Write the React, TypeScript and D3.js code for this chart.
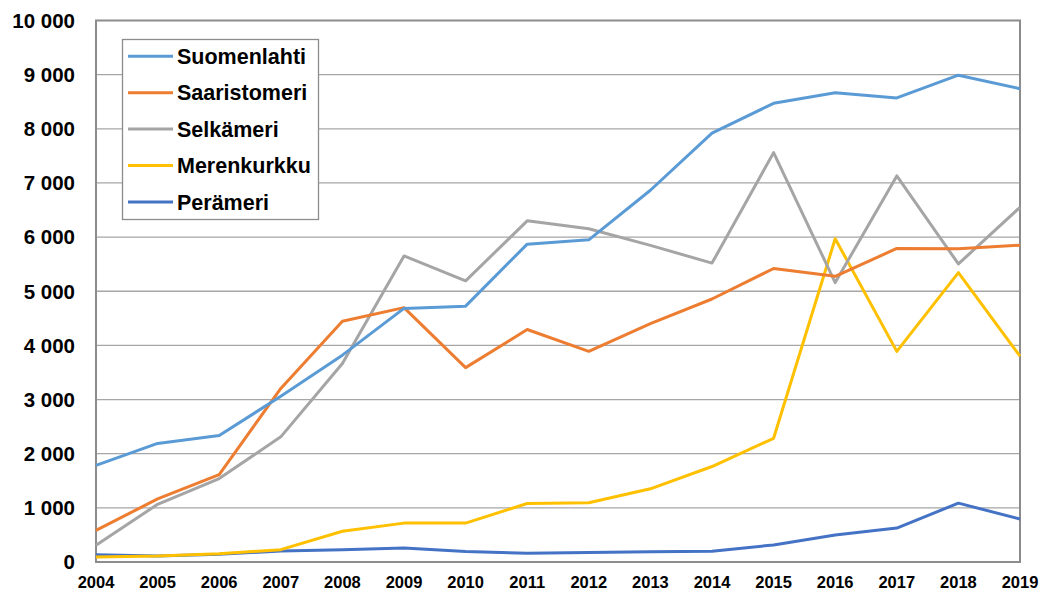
import React, { useEffect, useRef } from "react";
import * as d3 from "d3";

const years = [2004, 2005, 2006, 2007, 2008, 2009, 2010, 2011, 2012, 2013, 2014, 2015, 2016, 2017, 2018, 2019];

const suomenlahti = [1785, 2190, 2335, 3060, 3820, 4683, 4725, 5870, 5950, 6865, 7920, 8470, 8665, 8570, 8990, 8740];
const saaristomeri = [585, 1165, 1615, 3205, 4445, 4697, 3590, 4293, 3890, 4404, 4857, 5420, 5275, 5790, 5785, 5850];
const selkameri = [308, 1066, 1541, 2311, 3667, 5652, 5192, 6300, 6153, 5847, 5520, 7560, 5160, 7130, 5505, 6550];
const merenkurkku = [92, 110, 154, 228, 567, 718, 718, 1080, 1094, 1352, 1763, 2285, 5970, 3890, 5345, 3800];
const peramari = [135, 110, 142, 203, 228, 258, 195, 160, 174, 188, 200, 315, 500, 627, 1087, 794];

const seriesNames = ["Suomenlahti", "Saaristomeri", "Selkämeri", "Merenkurkku", "Perämeri"];
const seriesColors = ["#5B9BD5", "#ED7D31", "#A5A5A5", "#FFC000", "#4472C4"];
const seriesValues = [suomenlahti, saaristomeri, selkameri, merenkurkku, peramari];

const yTicks = [0, 1000, 2000, 3000, 4000, 5000, 6000, 7000, 8000, 9000, 10000];

const App = () => {
  const ref = useRef<SVGSVGElement>(null);

  useEffect(() => {
    const width = 1042, height = 591;
    const left = 96, right = 1020, top = 20.5, bottom = 562;

    const svg = d3.select(ref.current);
    svg.selectAll("*").remove();

    const x = d3.scaleLinear().domain([2004, 2019]).range([left, right]);
    const y = d3.scaleLinear().domain([0, 10000]).range([bottom, top]);
    const fmt = (v: number) => d3.format(",")(v).replace(/,/g, " ");

    svg.attr("width", width).attr("height", height)
      .attr("font-family", "'Liberation Sans', Arial, sans-serif")
      .attr("font-weight", "bold");

    // gridlines
    svg.append("g").selectAll("line")
      .data(yTicks.slice(1, -1))
      .join("line")
      .attr("x1", left).attr("x2", right)
      .attr("y1", d => y(d)).attr("y2", d => y(d))
      .attr("stroke", "#a6a6a6").attr("stroke-width", 1.3);

    // plot border
    svg.append("rect")
      .attr("x", left).attr("y", top)
      .attr("width", right - left).attr("height", bottom - top)
      .attr("fill", "none").attr("stroke", "#8c8c8c").attr("stroke-width", 2);

    // y labels
    svg.append("g").selectAll("text")
      .data(yTicks)
      .join("text")
      .attr("x", 75).attr("y", d => y(d))
      .attr("dy", "0.36em")
      .attr("text-anchor", "end")
      .attr("font-size", 20.5)
      .text(d => fmt(d));

    // x labels
    svg.append("g").selectAll("text")
      .data(years)
      .join("text")
      .attr("x", d => x(d)).attr("y", 588)
      .attr("text-anchor", "middle")
      .attr("font-size", 16.5)
      .text(d => d);

    const line = d3.line<number>()
      .x((d, i) => x(years[i]))
      .y(d => y(d));

    // draw in reverse so Suomenlahti sits on top like the original
    const order = [4, 3, 2, 1, 0];
    svg.append("g").selectAll("path")
      .data(order)
      .join("path")
      .attr("d", i => line(seriesValues[i]))
      .attr("fill", "none")
      .attr("stroke", i => seriesColors[i])
      .attr("stroke-width", 3)
      .attr("stroke-linejoin", "round");

    // legend
    const lg = svg.append("g");
    lg.append("rect")
      .attr("x", 122.5).attr("y", 39.5)
      .attr("width", 196).attr("height", 180)
      .attr("fill", "white").attr("stroke", "#8c8c8c").attr("stroke-width", 1.3);

    const item = lg.selectAll("g")
      .data(seriesNames)
      .join("g")
      .attr("transform", (d, i) => `translate(128,${56.3 + i * 36.4})`);
    item.append("line")
      .attr("x1", 0).attr("x2", 45)
      .attr("stroke", (d, i) => seriesColors[i])
      .attr("stroke-width", 3);
    item.append("text")
      .attr("x", 49).attr("dy", "0.36em")
      .attr("font-size", 21.5)
      .text(d => d);
  }, []);

  return (
    <svg ref={ref} style={{ position: "absolute", left: 0, top: 0, background: "white" }}></svg>
  );
};

export default App;
